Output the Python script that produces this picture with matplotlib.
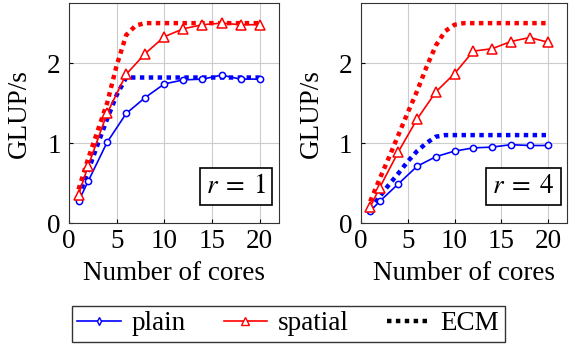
import matplotlib
matplotlib.use("Agg")
import matplotlib.pyplot as plt
from matplotlib.lines import Line2D

plt.rcParams['font.family'] = ['Liberation Serif', 'DejaVu Serif']
plt.rcParams['mathtext.fontset'] = 'stix'

# measured cores
cores = [1, 2, 4, 6, 8, 10, 12, 14, 16, 18, 20]
ecm_cores = list(range(1, 21))

# r = 1
plain_r1 = [0.27, 0.52, 1.01, 1.37, 1.57, 1.74, 1.79, 1.80, 1.85, 1.80, 1.80]
spatial_r1 = [0.35, 0.71, 1.37, 1.86, 2.12, 2.33, 2.43, 2.48, 2.50, 2.48, 2.48]
ecm_plain_r1 = [0.33, 0.65, 0.98, 1.30, 1.60, 1.82, 1.82, 1.82, 1.82, 1.82,
                1.82, 1.82, 1.82, 1.82, 1.82, 1.82, 1.82, 1.82, 1.82, 1.82]
ecm_spatial_r1 = [0.42, 0.80, 1.15, 1.50, 1.97, 2.35, 2.47, 2.50, 2.50, 2.50,
                  2.50, 2.50, 2.50, 2.50, 2.50, 2.50, 2.50, 2.50, 2.50, 2.50]

# r = 4
plain_r4 = [0.15, 0.27, 0.49, 0.71, 0.83, 0.90, 0.94, 0.95, 0.98, 0.97, 0.97]
spatial_r4 = [0.20, 0.44, 0.89, 1.30, 1.64, 1.87, 2.15, 2.18, 2.27, 2.32, 2.26]
ecm_plain_r4 = [0.17, 0.33, 0.48, 0.62, 0.77, 0.90, 1.00, 1.08, 1.10, 1.10,
                1.10, 1.10, 1.10, 1.10, 1.10, 1.10, 1.10, 1.10, 1.10, 1.10]
ecm_spatial_r4 = [0.27, 0.55, 0.82, 1.10, 1.38, 1.65, 1.95, 2.22, 2.40, 2.48,
                  2.50, 2.50, 2.50, 2.50, 2.50, 2.50, 2.50, 2.50, 2.50, 2.50]

panels = [
    ("$r\\;=\\;1$", plain_r1, spatial_r1, ecm_plain_r1, ecm_spatial_r1),
    ("$r\\;=\\;4$", plain_r4, spatial_r4, ecm_plain_r4, ecm_spatial_r4),
]

fs = 19.5
fig = plt.figure(figsize=(5.7, 3.48), dpi=100)
ax_pos = [[0.121, 0.359, 0.368, 0.632], [0.633, 0.359, 0.362, 0.632]]

for pos, (label, plain, spatial, ecm_p, ecm_s) in zip(ax_pos, panels):
    ax = fig.add_axes(pos)
    ax.plot(ecm_cores, ecm_s, color='red', lw=3.2, ls=(0, (1, 1)), zorder=2)
    ax.plot(ecm_cores, ecm_p, color='blue', lw=3.2, ls=(0, (1, 1)), zorder=2)
    ax.plot(cores, plain, color='blue', lw=1.2, marker='o', ms=4.5,
            mfc='white', mew=1.1, zorder=3)
    ax.plot(cores, spatial, color='red', lw=1.2, marker='^', ms=7.5,
            mfc='white', mew=1.1, zorder=3)
    ax.set_xlim(0, 22)
    ax.set_ylim(0, 2.75)
    ax.set_xticks([0, 5, 10, 15, 20])
    ax.set_yticks([0, 1, 2])
    ax.grid(True, color='#cccccc', lw=0.8)
    ax.set_axisbelow(True)
    ax.tick_params(direction='in', labelsize=fs, length=3)
    ax.tick_params(axis='x', pad=4)
    ax.tick_params(axis='y', pad=6)
    ax.set_xlabel("Number of cores", fontsize=fs, labelpad=5)
    ax.set_ylabel("GLUP/s", fontsize=fs, labelpad=11)
    for s in ax.spines.values():
        s.set_color('#333333')
    ax.text(0.94, 0.11, label, transform=ax.transAxes, ha='right', va='bottom',
            fontsize=fs, zorder=5,
            bbox=dict(boxstyle='square,pad=0.22', fc='white', ec='black', lw=1.2))

handles = [
    Line2D([], [], color='blue', lw=1.2, marker='d', ms=4, mfc='white'),
    Line2D([], [], color='red', lw=1.2, marker='^', ms=6, mfc='white'),
    Line2D([], [], color='black', lw=3.2, ls=(0, (1, 1))),
]
fig.legend(handles, ["plain", "spatial", "ECM"], loc='center',
           bbox_to_anchor=(0.506, 0.07), ncol=3, fontsize=fs, frameon=True,
           fancybox=False, edgecolor='black', handlelength=1.6, columnspacing=1.4,
           handletextpad=0.4, borderpad=0.2).get_frame().set_linewidth(1.0)

fig.savefig("out.png", dpi=100)
